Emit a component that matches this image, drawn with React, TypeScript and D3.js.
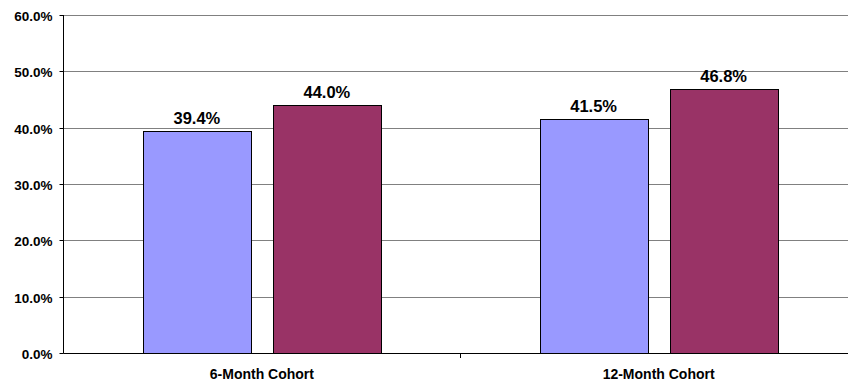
import React from "react";
import * as d3 from "d3";

const categories = ["6-Month Cohort", "12-Month Cohort"];
const seriesA = [39.4, 41.5];
const seriesB = [44.0, 46.8];
const yTicks = [0, 10, 20, 30, 40, 50, 60];

const W = 848;
const H = 383;
const margin = { left: 63.5, right: -9, top: 15, bottom: 30 };
const FONT = "'Liberation Sans', Arial, Helvetica, sans-serif";

export default function App() {
  const x0 = margin.left;
  const x1 = W - margin.right;
  const yTop = margin.top;
  const yBot = H - margin.bottom;

  const x = d3.scaleBand<string>().domain(categories).range([x0, x1]);
  const y = d3.scaleLinear().domain([0, 60]).range([yBot, yTop]);

  const barW = 108;
  const gap = 22;

  const groups = categories.map((c, i) => {
    const cx = (x(c) as number) + x.bandwidth() / 2;
    return {
      c,
      cx,
      bars: [
        { v: seriesA[i], x: cx - gap / 2 - barW, fill: "#9999FF" },
        { v: seriesB[i], x: cx + gap / 2, fill: "#993366" },
      ],
    };
  });

  return (
    <svg
      width={W}
      height={H}
      style={{ position: "absolute", left: 0, top: 0, background: "#fff" }}
      fontFamily={FONT}
    >
      {yTicks.map((t) => (
        <g key={t}>
          {t > 0 && (
            <line x1={x0} x2={x1} y1={Math.round(y(t)) + 0.5} y2={Math.round(y(t)) + 0.5} stroke="#808080" strokeWidth={1} />
          )}
          <line x1={x0 - 4} x2={x0} y1={Math.round(y(t)) + 0.5} y2={Math.round(y(t)) + 0.5} stroke="#000" />
          <text
            x={52.5}
            y={Math.round(y(t)) + 5.5}
            textAnchor="end"
            fontSize={13.5}
            fontWeight="bold"
            fill="#000"
          >
            {t.toFixed(1)}%
          </text>
        </g>
      ))}
      {groups.map((g) => (
        <g key={g.c}>
          {g.bars.map((b, j) => (
            <g key={j}>
              <rect
                x={Math.round(b.x) + 0.5}
                y={Math.round(y(b.v)) + 0.5}
                width={barW}
                height={Math.round(yBot) - Math.round(y(b.v))}
                fill={b.fill}
                stroke="#000"
                strokeWidth={1}
              />
              <text
                x={b.x + barW / 2}
                y={y(b.v) - 7}
                textAnchor="middle"
                fontSize={16.5}
                fontWeight="bold"
                fill="#000"
              >
                {b.v.toFixed(1)}%
              </text>
            </g>
          ))}
          <text x={g.cx} y={379} textAnchor="middle" fontSize={14} fontWeight="bold" fill="#000">
            {g.c}
          </text>
        </g>
      ))}
      {/* category boundaries on the x axis */}
      {categories.map((c, i) =>
        i > 0 ? (
          <line key={c} x1={Math.round(x(c) as number) + 0.5} x2={Math.round(x(c) as number) + 0.5} y1={yBot} y2={yBot + 5} stroke="#000" />
        ) : null
      )}
      <line x1={x0} x2={x0} y1={yTop} y2={Math.round(yBot) + 0.5} stroke="#000" />
      <line x1={x0} x2={x1} y1={Math.round(yBot) + 0.5} y2={Math.round(yBot) + 0.5} stroke="#000" />
    </svg>
  );
}
